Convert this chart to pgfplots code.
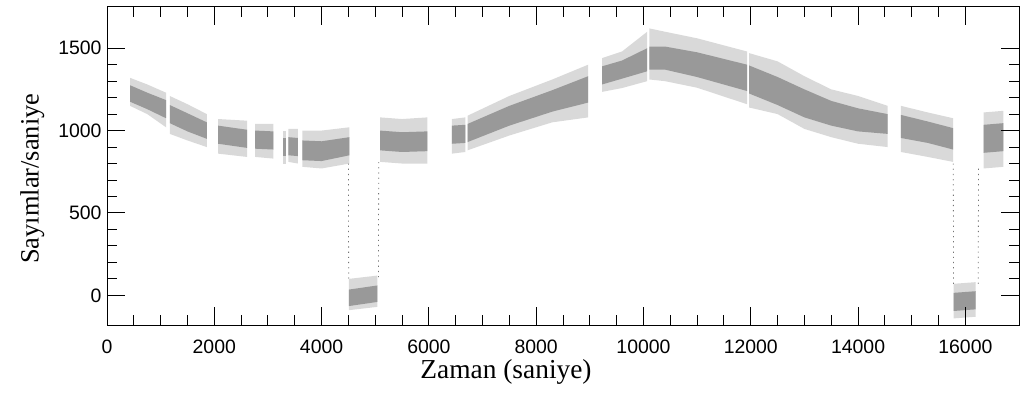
\documentclass[border=0pt]{standalone}
\usepackage{fontspec}
\setmainfont{Liberation Serif}
\newfontfamily\hv{Liberation Sans}
\usepackage{pgfplots}
\pgfplotsset{compat=1.18}

\pgfplotsset{
  outer/.style={fill=black!15, draw=none, forget plot},
  core/.style={fill=black!40, draw=none, forget plot},
  trans/.style={black!55, line width=0.8pt, dash pattern=on 1.2pt off 4pt, forget plot},
}

\begin{document}
\begin{tikzpicture}
\path (0,0) rectangle (1029bp,393bp);
\begin{axis}[
  at={(107bp,68bp)}, anchor=south west,
  scale only axis, width=912bp, height=318bp,
  xmin=0, xmax=17000, ymin=-180, ymax=1750,
  xtick={0,2000,...,16000}, ytick={0,500,1000,1500},
  minor x tick num=3, minor y tick num=4,
  tick align=inside,
  major tick length=18bp, minor tick length=10bp,
  every tick/.style={black, line width=1pt},
  axis line style={line width=1pt},
  /pgf/number format/assume math mode=true,
  /pgf/number format/1000 sep={},
  scaled ticks=false,
  ticklabel style={font=\hv\fontsize{19.5}{20}\selectfont},
  x tick label style={yshift=-11bp},
  y tick label style={xshift=-2bp},
  xlabel={Zaman (saniye)}, ylabel={Sayımlar/saniye},
  xlabel style={at={(axis description cs:0.4375,-0.148)}, anchor=center, font=\fontsize{27.5}{28}\selectfont},
  ylabel style={at={(axis description cs:-0.082,0.46)}, anchor=center, font=\fontsize{26.5}{27}\selectfont},
  axis on top,
]
% outer envelopes of the scattered count rates
\addplot[outer] coordinates {(430,1320)(750,1280)(1100,1230)(1100,1020)(750,1100)(430,1150)} -- cycle;
\addplot[outer] coordinates {(1170,1210)(1500,1160)(1860,1100)(1860,900)(1500,940)(1170,980)} -- cycle;
\addplot[outer] coordinates {(2070,1070)(2610,1060)(2610,840)(2070,860)} -- cycle;
\addplot[outer] coordinates {(2760,1040)(3100,1040)(3100,830)(2760,840)} -- cycle;
\addplot[outer] coordinates {(3280,1000)(3330,1000)(3330,800)(3280,800)} -- cycle;
\addplot[outer] coordinates {(3380,1010)(3560,1010)(3560,800)(3380,810)} -- cycle;
\addplot[outer] coordinates {(3640,1000)(4000,1000)(4520,1020)(4520,800)(4000,770)(3640,780)} -- cycle;
\addplot[outer] coordinates {(4510,100)(5040,120)(5040,-70)(4510,-90)} -- cycle;
\addplot[outer] coordinates {(5090,1080)(5500,1070)(5970,1080)(5970,800)(5500,800)(5090,810)} -- cycle;
\addplot[outer] coordinates {(6430,1070)(6680,1080)(6680,870)(6430,860)} -- cycle;
\addplot[outer] coordinates {(6720,1090)(7500,1210)(8300,1310)(8970,1400)(8970,1080)(8300,1050)(7500,970)(6720,880)} -- cycle;
\addplot[outer] coordinates {(9230,1440)(9600,1480)(10070,1600)(10070,1300)(9600,1258)(9230,1235)} -- cycle;
\addplot[outer] coordinates {(10110,1620)(10400,1600)(11000,1560)(11930,1480)(11930,1160)(11000,1260)(10400,1300)(10110,1310)} -- cycle;
\addplot[outer] coordinates {(11970,1470)(12500,1420)(13000,1330)(13500,1250)(14000,1210)(14550,1150)(14550,900)(14000,920)(13500,960)(13000,1010)(12500,1100)(11970,1140)} -- cycle;
\addplot[outer] coordinates {(14800,1150)(15300,1110)(15770,1075)(15770,810)(15300,840)(14800,870)} -- cycle;
\addplot[outer] coordinates {(15780,70)(16190,80)(16190,-130)(15780,-140)} -- cycle;
\addplot[outer] coordinates {(16340,1110)(16710,1120)(16710,780)(16340,770)} -- cycle;
% dense cores
\addplot[core] coordinates {(430,1275)(750,1230)(1100,1185)(1100,1075)(750,1130)(430,1175)} -- cycle;
\addplot[core] coordinates {(1170,1155)(1500,1105)(1860,1050)(1860,950)(1500,995)(1170,1045)} -- cycle;
\addplot[core] coordinates {(2070,1030)(2610,1005)(2610,895)(2070,920)} -- cycle;
\addplot[core] coordinates {(2760,1000)(3100,995)(3100,885)(2760,890)} -- cycle;
\addplot[core] coordinates {(3280,955)(3330,955)(3330,845)(3280,845)} -- cycle;
\addplot[core] coordinates {(3380,960)(3560,955)(3560,845)(3380,850)} -- cycle;
\addplot[core] coordinates {(3640,940)(4000,935)(4520,960)(4520,850)(4000,815)(3640,820)} -- cycle;
\addplot[core] coordinates {(4510,35)(5040,60)(5040,-40)(4510,-65)} -- cycle;
\addplot[core] coordinates {(5090,1000)(5500,990)(5970,995)(5970,875)(5500,870)(5090,880)} -- cycle;
\addplot[core] coordinates {(6430,1030)(6680,1035)(6680,925)(6430,920)} -- cycle;
\addplot[core] coordinates {(6720,1040)(7500,1150)(8300,1245)(8970,1330)(8970,1170)(8300,1115)(7500,1030)(6720,930)} -- cycle;
\addplot[core] coordinates {(9230,1390)(9600,1425)(10070,1500)(10070,1360)(9600,1315)(9230,1280)} -- cycle;
\addplot[core] coordinates {(10110,1510)(10400,1510)(11000,1475)(11930,1400)(11930,1240)(11000,1325)(10400,1370)(10110,1370)} -- cycle;
\addplot[core] coordinates {(11970,1395)(12500,1325)(13000,1250)(13500,1180)(14000,1135)(14550,1100)(14550,980)(14000,995)(13500,1030)(13000,1080)(12500,1155)(11970,1225)} -- cycle;
\addplot[core] coordinates {(14800,1095)(15300,1055)(15770,1015)(15770,885)(15300,925)(14800,955)} -- cycle;
\addplot[core] coordinates {(15780,15)(16190,25)(16190,-85)(15780,-95)} -- cycle;
\addplot[core] coordinates {(16340,1035)(16710,1045)(16710,875)(16340,865)} -- cycle;
% ingress / egress of the eclipses
\addplot[trans] coordinates {(4500,800) (4505,90)};
\addplot[trans] coordinates {(5060,110) (5065,830)};
\addplot[trans] coordinates {(15775,800) (15780,60)};
\addplot[trans] coordinates {(16240,70) (16245,780)};
\end{axis}
\end{tikzpicture}
\end{document}
